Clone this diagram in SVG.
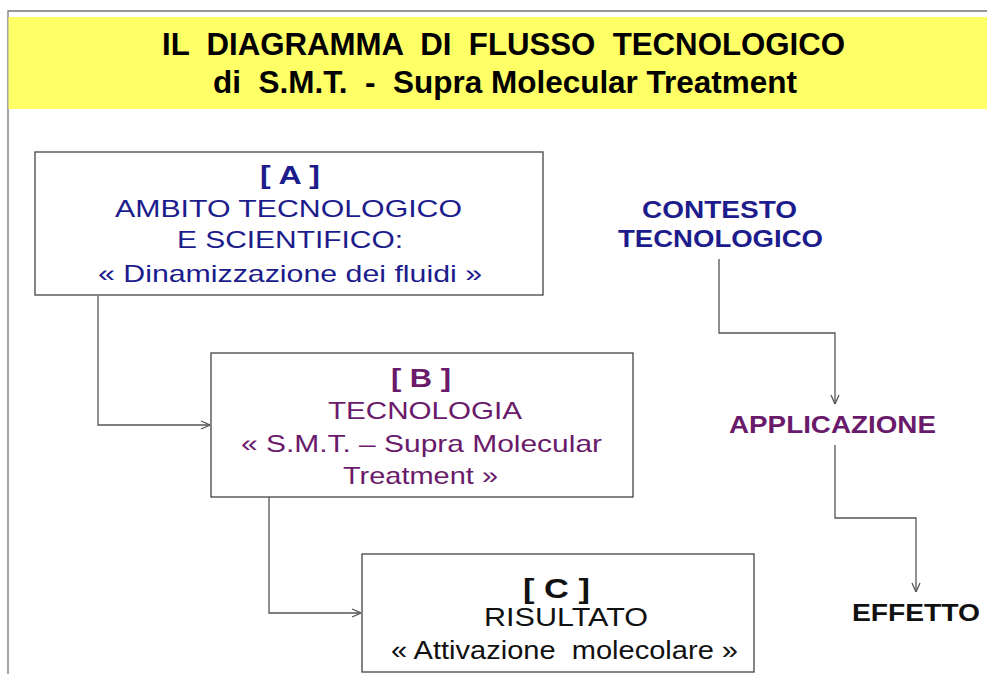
<svg xmlns="http://www.w3.org/2000/svg" width="987" height="674" viewBox="0 0 987 674">
<defs>
<style>
.frame{fill:none;stroke:#777;stroke-width:1.3}
.box{fill:#fff;stroke:#444;stroke-width:1.3}
.t{font-family:"Liberation Sans",Arial,sans-serif;font-size:24px}
.b{font-weight:bold}
.title{font-family:"Liberation Sans Narrow","Arial Narrow","Liberation Sans",sans-serif;font-weight:bold;font-size:32px;fill:#000}
.navy{fill:#1c1c8c}
.purple{fill:#6a1a6a}
.black{fill:#111}
.conn{fill:none;stroke:#555;stroke-width:1.3}
</style>
<marker id="arr" viewBox="0 0 10 10" refX="10" refY="5" markerWidth="10" markerHeight="10" markerUnits="userSpaceOnUse" orient="auto">
<path d="M1,1 L10,5 L1,9" fill="none" stroke="#555" stroke-width="1.3"/>
</marker>
</defs>
<rect width="987" height="674" fill="#fff"/>
<path class="frame" d="M8,674 V11 H987"/>
<g id="header">
<rect x="8.5" y="17" width="978.5" height="92" fill="#ffff66"/>
<text class="title" x="162" y="55" textLength="683" lengthAdjust="spacingAndGlyphs" xml:space="preserve">IL  DIAGRAMMA  DI  FLUSSO  TECNOLOGICO</text>
<text class="title" x="213" y="93" textLength="584" lengthAdjust="spacingAndGlyphs" xml:space="preserve">di  S.M.T.  -  Supra Molecular Treatment</text>
</g>
<g id="connectors">
<path class="conn" d="M98,296 V425 H210" marker-end="url(#arr)"/>
<path class="conn" d="M269,497 V613 H361" marker-end="url(#arr)"/>
<path class="conn" d="M719,259 V333 H835 V404" marker-end="url(#arr)"/>
<path class="conn" d="M835,445 V518 H916 V592" marker-end="url(#arr)"/>
</g>
<g id="nodeA">
<rect class="box" x="35" y="152" width="508" height="143"/>
<text class="t b navy" x="260" y="184" textLength="60" lengthAdjust="spacingAndGlyphs" style="font-size:25px">[ A ]</text>
<text class="t navy" x="115" y="217" textLength="347" lengthAdjust="spacingAndGlyphs">AMBITO TECNOLOGICO</text>
<text class="t navy" x="177" y="248" textLength="226" lengthAdjust="spacingAndGlyphs">E SCIENTIFICO:</text>
<text class="t navy" x="98" y="282" textLength="384" lengthAdjust="spacingAndGlyphs">« Dinamizzazione dei fluidi »</text>
</g>
<g id="nodeB">
<rect class="box" x="211" y="353" width="422" height="144"/>
<text class="t b purple" x="391" y="387" textLength="60" lengthAdjust="spacingAndGlyphs" style="font-size:25px">[ B ]</text>
<text class="t purple" x="328" y="419" textLength="194" lengthAdjust="spacingAndGlyphs">TECNOLOGIA</text>
<text class="t purple" x="241" y="452" textLength="361" lengthAdjust="spacingAndGlyphs">« S.M.T. – Supra Molecular</text>
<text class="t purple" x="343" y="484" textLength="155" lengthAdjust="spacingAndGlyphs">Treatment »</text>
</g>
<g id="nodeC">
<rect class="box" x="362" y="554" width="392" height="118"/>
<text class="t b black" x="523" y="598" textLength="67" lengthAdjust="spacingAndGlyphs" style="font-size:27px">[ C ]</text>
<text class="t black" x="484" y="626" textLength="164" lengthAdjust="spacingAndGlyphs" style="font-size:25px">RISULTATO</text>
<text class="t black" x="391" y="659" textLength="347" lengthAdjust="spacingAndGlyphs" style="font-size:25px" xml:space="preserve">« Attivazione  molecolare »</text>
</g>
<g id="contesto">
<text class="t b navy" x="642" y="218" textLength="155" lengthAdjust="spacingAndGlyphs">CONTESTO</text>
<text class="t b navy" x="618" y="247" textLength="205" lengthAdjust="spacingAndGlyphs">TECNOLOGICO</text>
</g>
<g id="applicazione">
<text class="t b purple" x="729" y="433" textLength="207" lengthAdjust="spacingAndGlyphs">APPLICAZIONE</text>
</g>
<g id="effetto">
<text class="t b black" x="852" y="621" textLength="128" lengthAdjust="spacingAndGlyphs">EFFETTO</text>
</g>
</svg>
